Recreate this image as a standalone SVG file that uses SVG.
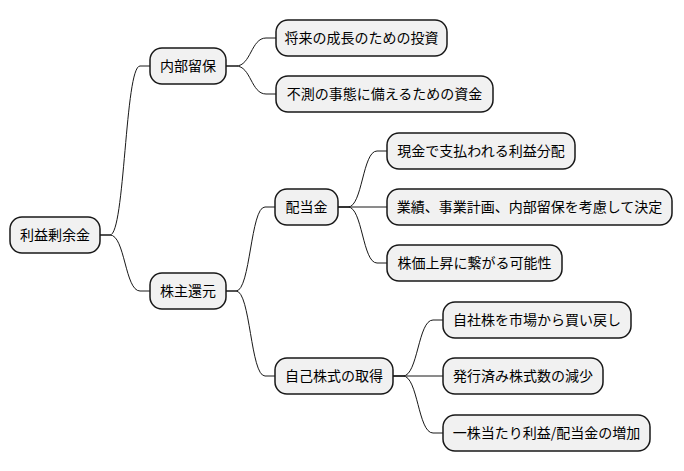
<svg xmlns="http://www.w3.org/2000/svg" width="684" height="471" viewBox="0 0 684 471">
<style>
.n rect{fill:#F1F1F1;stroke:#181818;stroke-width:1.5}
.n text{font-family:"Noto Sans CJK JP","Noto Sans",sans-serif;font-size:14px;fill:#000;text-anchor:middle}
.c path{fill:none;stroke:#181818;stroke-width:1}
</style>
<rect width="684" height="471" fill="#FFFFFF"/>
<g class="c">
<path d="M100,235 L110,235 C125,235 125,66 140,66 L150,66"/>
<path d="M100,235 L110,235 C125,235 125,291 140,291 L150,291"/>
<path d="M226,66 L236,66 C251,66 251,38 266,38 L276,38"/>
<path d="M226,66 L236,66 C251,66 251,94 266,94 L276,94"/>
<path d="M226,291 L236,291 C250.5,291 250.5,207 265,207 L275,207"/>
<path d="M226,291 L236,291 C250.5,291 250.5,376 265,376 L275,376"/>
<path d="M338,207 L348,207 C362.5,207 362.5,151 377,151 L387,151"/>
<path d="M338,207 L387,207"/>
<path d="M338,207 L348,207 C362.5,207 362.5,263 377,263 L387,263"/>
<path d="M393,376 L403,376 C418,376 418,320 433,320 L443,320"/>
<path d="M393,376 L443,376"/>
<path d="M393,376 L403,376 C418,376 418,433 433,433 L443,433"/>
</g>
<g id="root" class="n"><rect x="10" y="217" width="90" height="36" rx="12"/><text x="55" y="240">利益剰余金</text></g>
<g id="n1" class="n"><rect x="150" y="48" width="76" height="36" rx="12"/><text x="188" y="71">内部留保</text></g>
<g id="n11" class="n"><rect x="276" y="20" width="171" height="36" rx="12"/><text x="361.5" y="43">将来の成長のための投資</text></g>
<g id="n12" class="n"><rect x="276" y="76" width="217" height="36" rx="12"/><text x="384.5" y="99">不測の事態に備えるための資金</text></g>
<g id="n2" class="n"><rect x="150" y="273" width="76" height="36" rx="12"/><text x="188" y="296">株主還元</text></g>
<g id="n21" class="n"><rect x="275" y="189" width="63" height="36" rx="12"/><text x="306.5" y="212">配当金</text></g>
<g id="n211" class="n"><rect x="387" y="133" width="188" height="36" rx="12"/><text x="481" y="156">現金で支払われる利益分配</text></g>
<g id="n212" class="n"><rect x="387" y="189" width="285" height="36" rx="12"/><text x="529.5" y="212">業績、事業計画、内部留保を考慮して決定</text></g>
<g id="n213" class="n"><rect x="387" y="245" width="175" height="36" rx="12"/><text x="474.5" y="268">株価上昇に繋がる可能性</text></g>
<g id="n22" class="n"><rect x="275" y="358" width="118" height="36" rx="12"/><text x="334" y="381">自己株式の取得</text></g>
<g id="n221" class="n"><rect x="443" y="302" width="188" height="36" rx="12"/><text x="537" y="325">自社株を市場から買い戻し</text></g>
<g id="n222" class="n"><rect x="443" y="358" width="160" height="36" rx="12"/><text x="523" y="381">発行済み株式数の減少</text></g>
<g id="n223" class="n"><rect x="443" y="415" width="207" height="36" rx="12"/><text x="546.5" y="438">一株当たり利益/配当金の増加</text></g>
</svg>
